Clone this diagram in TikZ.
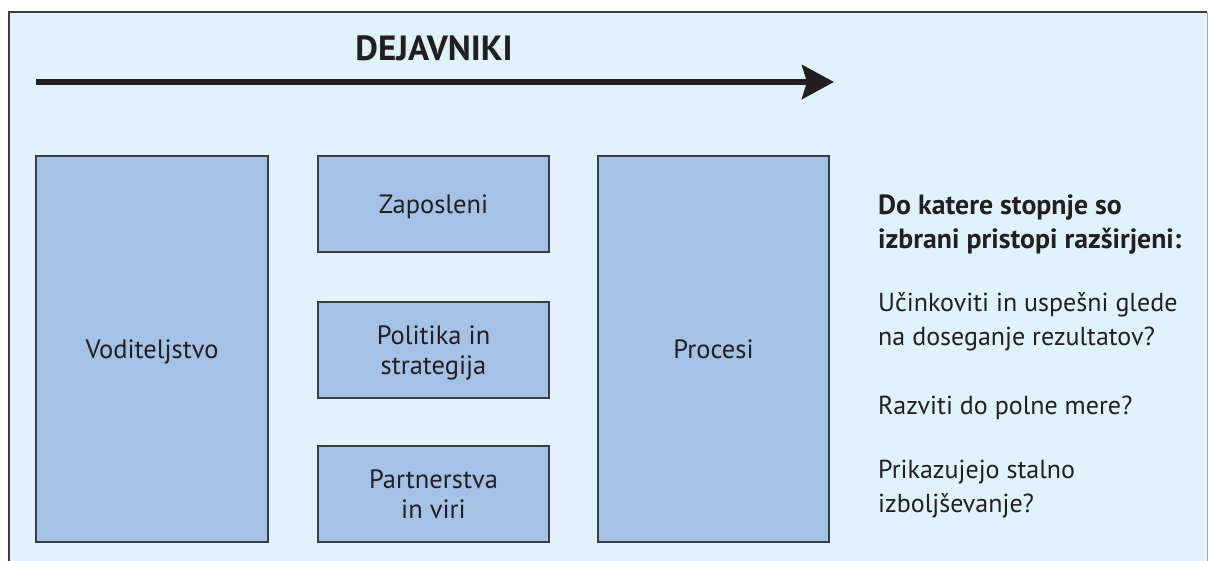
\documentclass[tikz,border=0pt]{standalone}
\usepackage{fontspec}
\setmainfont{PT Sans}
\usetikzlibrary{arrows.meta}
\definecolor{bgblue}{HTML}{E0F2FC}
\definecolor{boxblue}{HTML}{A3C2E5}
\definecolor{boxedge}{HTML}{3A3D45}
\definecolor{ink}{HTML}{231F20}
\tikzset{
  x=1pt,y=-1pt,
  factor/.style={draw=boxedge,line width=1.6pt,fill=boxblue,inner sep=0pt,text=ink,
    text depth=0pt,font=\fontsize{26.5}{30}\selectfont,align=center},
  question/.style={anchor=base west,inner sep=0pt,text=ink,align=left,
    font=\fontsize{26}{34}\selectfont},
}
\begin{document}
\begin{tikzpicture}
\useasboundingbox (0,0) rectangle (1208,561);
\fill[bgblue] (9,12) rectangle (1207,561);
\draw[boxedge,line width=1.5pt] (9,561) -- (9,12) -- (1207,12);
\draw[gray!70,line width=1pt] (1207,12) -- (1207,561);
% title and arrow
\node[anchor=base,inner sep=0pt,text=ink,font=\fontsize{35}{36}\selectfont\bfseries] (title) at (434,61) {DEJAVNIKI};
\coordinate (arrA) at (36,82);
\coordinate (arrB) at (834,82);
\draw[ink,line width=6pt,-{Stealth[length=32pt,width=34pt,inset=5pt]}] (arrA) -- (arrB);
% boxes
\node[factor,minimum width=232pt,minimum height=386pt] (vod) at (152,349) {Voditeljstvo};
\node[factor,minimum width=231pt,minimum height=96pt] (zap) at (433.5,204) {Zaposleni};
\node[factor,minimum width=231pt,minimum height=96pt] (pol) at (433.5,350) {Politika in\\strategija};
\node[factor,minimum width=231pt,minimum height=96pt] (par) at (433.5,494) {Partnerstva\\in viri};
\node[factor,minimum width=231pt,minimum height=386pt] (pro) at (713.5,349) {Procesi};
% questions
\node[question,font=\fontsize{27.8}{34}\selectfont\bfseries] (q0) at (878,249) {Do katere stopnje so\\izbrani pristopi razširjeni:};
\node[question] (q1) at (878,346) {Učinkoviti in uspešni glede\\na doseganje rezultatov?};
\node[question] (q2) at (878,414) {Razviti do polne mere?};
\node[question] (q3) at (878,512) {Prikazujejo stalno\\izboljševanje?};
\end{tikzpicture}
\end{document}
